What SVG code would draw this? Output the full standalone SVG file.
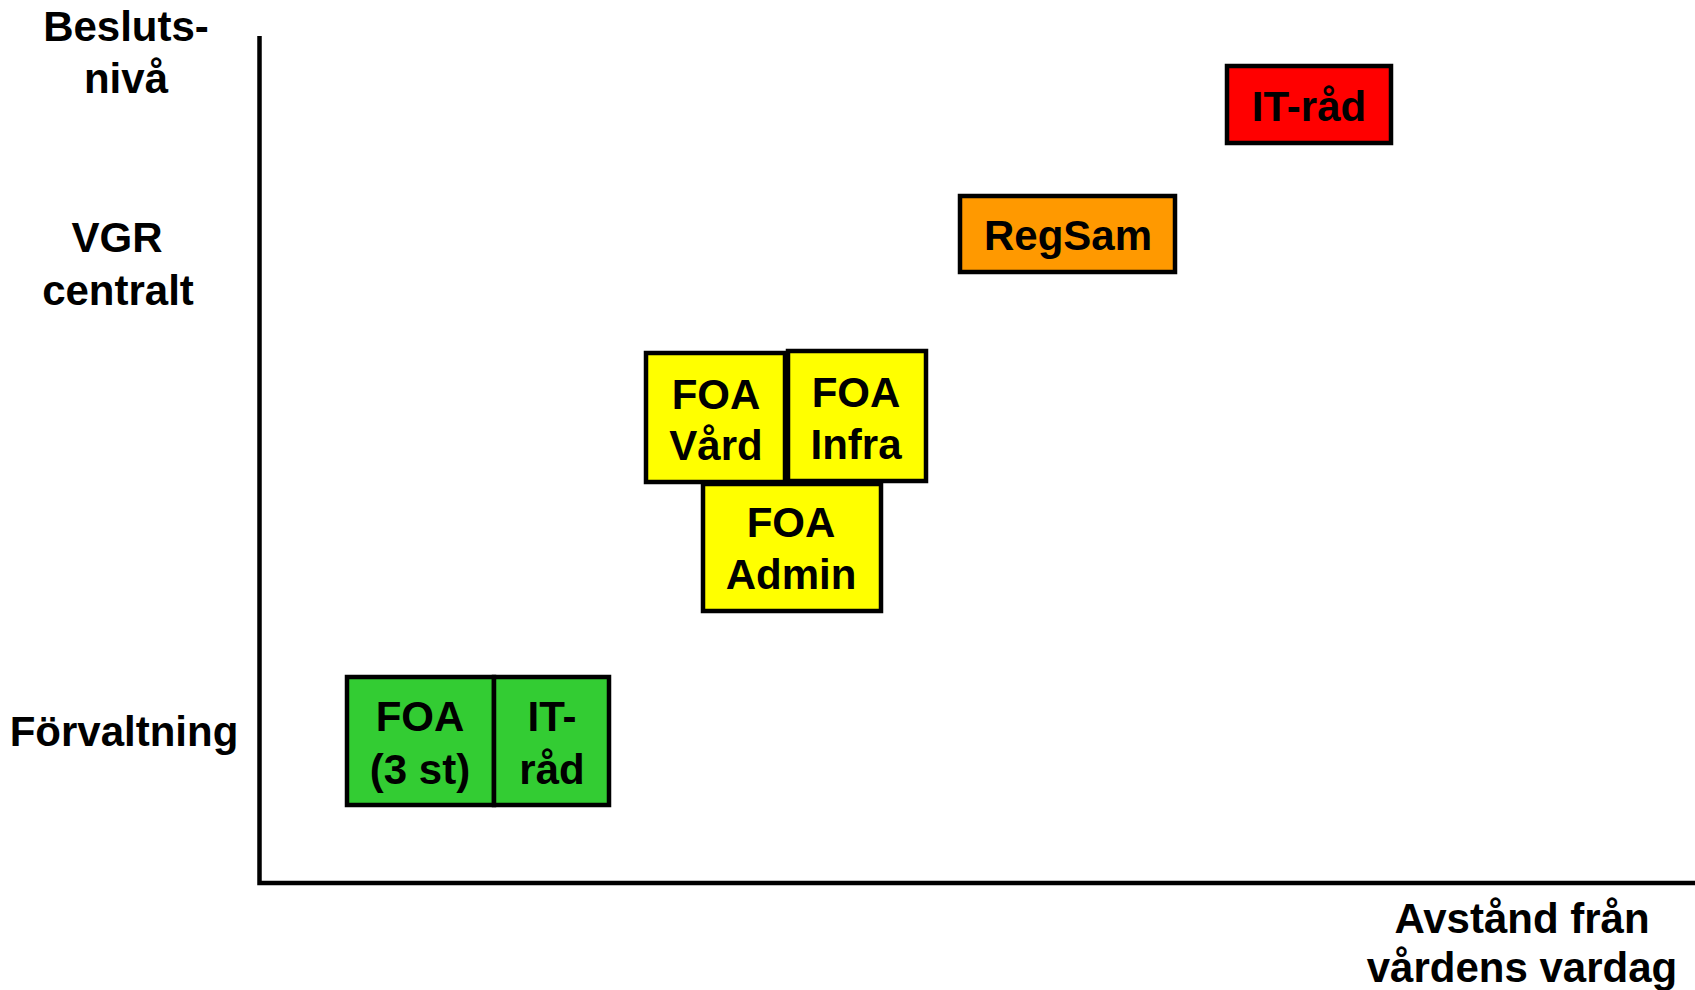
<svg xmlns="http://www.w3.org/2000/svg" width="1695" height="990" viewBox="0 0 1695 990">
<style>
text{font-family:"Liberation Sans",Arial,sans-serif;font-weight:bold;font-size:42px;fill:#000;text-anchor:middle}
.box{stroke:#000;stroke-width:4.5}
.axis{stroke:#000;stroke-width:4.5;fill:none}
</style>
<rect width="1695" height="990" fill="#fff"/>
<g id="axes">
<path class="axis" d="M259.5 36 V883 H1695"/>
</g>
<g id="labels">
<text x="126" y="41">Besluts-</text>
<text x="126" y="93">nivå</text>
<text x="117" y="252">VGR</text>
<text x="118" y="305">centralt</text>
<text x="124" y="746">Förvaltning</text>
<text x="1522" y="933">Avstånd från</text>
<text x="1522" y="982">vårdens vardag</text>
</g>
<g id="connectors"></g>
<g id="node-itrad-red">
<rect class="box" x="1227" y="66" width="164" height="77" fill="#FF0000"/>
<text x="1309" y="121">IT-råd</text>
</g>
<g id="node-regsam">
<rect class="box" x="960" y="196" width="215" height="76" fill="#FF9900"/>
<text x="1068" y="250">RegSam</text>
</g>
<g id="node-foa-vard">
<rect class="box" x="646" y="353" width="139" height="129" fill="#FFFF00"/>
<text x="716" y="409">FOA</text>
<text x="716" y="460">Vård</text>
</g>
<g id="node-foa-infra">
<rect class="box" x="788" y="351" width="138" height="130" fill="#FFFF00"/>
<text x="856" y="407">FOA</text>
<text x="856" y="459">Infra</text>
</g>
<g id="node-foa-admin">
<rect class="box" x="703" y="484" width="178" height="127" fill="#FFFF00"/>
<text x="791" y="537">FOA</text>
<text x="791" y="589">Admin</text>
</g>
<g id="node-foa-3st">
<rect class="box" x="347" y="677" width="147" height="128" fill="#33CC33"/>
<text x="420" y="731">FOA</text>
<text x="420" y="784">(3 st)</text>
</g>
<g id="node-itrad-green">
<rect class="box" x="494" y="677" width="115" height="128" fill="#33CC33"/>
<text x="552" y="731">IT-</text>
<text x="552" y="784">råd</text>
</g>
</svg>
